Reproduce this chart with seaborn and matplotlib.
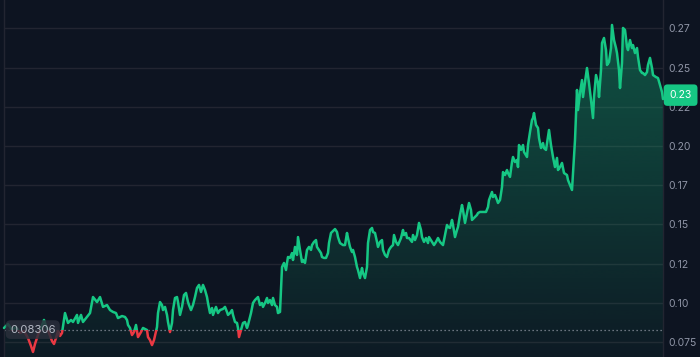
import numpy as np
import matplotlib
matplotlib.use("Agg")
import matplotlib.pyplot as plt
import matplotlib.transforms as mtransforms
from matplotlib.patches import Rectangle, PathPatch
from matplotlib.colors import LinearSegmentedColormap
import seaborn as sns

# ---------------- data ----------------
t = [4, 8, 12, 16, 20, 24, 28, 31, 33, 35, 38, 41, 44, 46, 49, 52, 54, 56, 58, 60,
     62, 65, 68, 71, 73, 77, 78, 81, 83, 87, 90, 93, 97, 100, 103, 107, 110, 113, 116, 118,
     122, 125, 127, 128, 130, 132, 134, 136, 138, 141, 143, 147, 148, 150, 152, 154, 157, 158, 160, 162,
     163, 165, 167, 168, 170, 172, 173, 175, 177, 178, 180, 182, 184, 186, 188, 189, 191, 193, 195, 197,
     199, 201, 203, 205, 207, 208, 210, 212, 213, 216, 218, 220, 223, 225, 227, 228, 230, 232, 233, 235,
     237, 238, 239, 241, 243, 245, 247, 248, 251, 253, 255, 257, 258, 260, 262, 263, 265, 267, 268, 270,
     272, 273, 275, 277, 278, 280, 281, 282, 284, 286, 287, 288, 290, 292, 293, 295, 297, 298, 300, 302,
     303, 305, 307, 309, 311, 312, 314, 316, 317, 319, 321, 322, 324, 326, 328, 329, 331, 333, 335, 337,
     338, 340, 343, 345, 347, 348, 350, 352, 353, 355, 357, 358, 360, 362, 363, 365, 367, 368, 370, 372,
     373, 375, 377, 378, 380, 382, 383, 385, 387, 389, 391, 393, 394, 396, 398, 401, 403, 404, 406, 407,
     409, 412, 413, 415, 417, 419, 421, 422, 424, 426, 428, 429, 432, 434, 436, 438, 440, 443, 445, 447,
     448, 450, 452, 453, 455, 457, 458, 460, 462, 463, 465, 467, 469, 471, 472, 475, 477, 478, 480, 483,
     486, 488, 489, 492, 493, 495, 497, 498, 500, 502, 503, 505, 507, 508, 510, 512, 513, 515, 517, 518,
     519, 521, 523, 524, 527, 528, 530, 532, 533, 534, 536, 538, 539, 541, 543, 544, 546, 549, 551, 553,
     555, 557, 558, 560, 562, 564, 567, 568, 570, 572, 573, 575, 577, 578, 580, 582, 583, 585, 587, 589,
     591, 593, 594, 596, 598, 599, 601, 602, 604, 606, 607, 609, 611, 612, 614, 616, 617, 619, 620, 622,
     623, 625, 627, 628, 630, 632, 633, 635, 637, 638, 640, 642, 643, 645, 647, 648, 650, 652, 653, 656,
     658, 660, 662, 663]

price = [0.0841, 0.0866, 0.0828, 0.0847, 0.0809, 0.0822, 0.0777, 0.0726, 0.0688, 0.0739,
         0.0796, 0.0841, 0.0892, 0.0854, 0.0809, 0.0758, 0.0739, 0.0777, 0.0822, 0.0790,
         0.0809, 0.0936, 0.0873, 0.0892, 0.0879, 0.0924, 0.0873, 0.0924, 0.0879, 0.0911,
         0.0936, 0.1038, 0.1006, 0.1038, 0.0975, 0.0987, 0.0955, 0.0943, 0.0936, 0.0904,
         0.0917, 0.0911, 0.0892, 0.0860, 0.0841, 0.0796, 0.0815, 0.0860, 0.0783, 0.0815,
         0.0841, 0.0828, 0.0783, 0.0764, 0.0732, 0.0764, 0.0847, 0.0936, 0.1006, 0.0987,
         0.0955, 0.0975, 0.0924, 0.0879, 0.0815, 0.0873, 0.0955, 0.1032, 0.1038, 0.1006,
         0.0924, 0.0975, 0.1051, 0.1064, 0.1006, 0.0987, 0.0955, 0.0987, 0.1038, 0.1096,
         0.1115, 0.1070, 0.1115, 0.1083, 0.1038, 0.1000, 0.0936, 0.0968, 0.0924, 0.0975,
         0.0936, 0.0955, 0.0962, 0.0975, 0.0943, 0.0924, 0.0936, 0.0955, 0.0924, 0.0879,
         0.0873, 0.0841, 0.0783, 0.0828, 0.0873, 0.0879, 0.0841, 0.0860, 0.0936, 0.1000,
         0.1019, 0.1032, 0.1038, 0.0987, 0.1000, 0.0975, 0.1000, 0.1032, 0.1000, 0.1019,
         0.0987, 0.1032, 0.0987, 0.0975, 0.0936, 0.0943, 0.1083, 0.1229, 0.1255, 0.1210,
         0.1255, 0.1293, 0.1287, 0.1318, 0.1274, 0.1357, 0.1306, 0.1420, 0.1338, 0.1261,
         0.1274, 0.1255, 0.1338, 0.1357, 0.1338, 0.1369, 0.1389, 0.1401, 0.1357, 0.1338,
         0.1318, 0.1293, 0.1287, 0.1287, 0.1318, 0.1382, 0.1446, 0.1459, 0.1471, 0.1452,
         0.1420, 0.1382, 0.1369, 0.1369, 0.1446, 0.1414, 0.1357, 0.1325, 0.1338, 0.1293,
         0.1229, 0.1210, 0.1159, 0.1223, 0.1191, 0.1159, 0.1229, 0.1382, 0.1465, 0.1478,
         0.1452, 0.1446, 0.1389, 0.1357, 0.1389, 0.1401, 0.1338, 0.1306, 0.1293, 0.1338,
         0.1357, 0.1369, 0.1433, 0.1389, 0.1369, 0.1414, 0.1465, 0.1433, 0.1446, 0.1414,
         0.1414, 0.1389, 0.1433, 0.1401, 0.1433, 0.1510, 0.1465, 0.1420, 0.1389, 0.1414,
         0.1382, 0.1420, 0.1389, 0.1369, 0.1389, 0.1414, 0.1389, 0.1369, 0.1433, 0.1497,
         0.1484, 0.1478, 0.1529, 0.1497, 0.1420, 0.1465, 0.1484, 0.1561, 0.1624, 0.1592,
         0.1510, 0.1573, 0.1637, 0.1592, 0.1529, 0.1548, 0.1561, 0.1573, 0.1580, 0.1580,
         0.1580, 0.1611, 0.1656, 0.1707, 0.1675, 0.1688, 0.1656, 0.1637, 0.1656, 0.1739,
         0.1834, 0.1815, 0.1847, 0.1828, 0.1803, 0.1898, 0.1930, 0.1898, 0.1911, 0.1866,
         0.2006, 0.1975, 0.2006, 0.1962, 0.1930, 0.2006, 0.2089, 0.2166, 0.2178, 0.2210,
         0.2134, 0.2115, 0.2051, 0.1987, 0.2019, 0.1987, 0.1975, 0.2102, 0.2006, 0.1930,
         0.1866, 0.1924, 0.1847, 0.1866, 0.1892, 0.1828, 0.1815, 0.1783, 0.1752, 0.1720,
         0.1828, 0.2038, 0.2357, 0.2229, 0.2338, 0.2420, 0.2312, 0.2408, 0.2497, 0.2401,
         0.2293, 0.2178, 0.2312, 0.2452, 0.2401, 0.2312, 0.2484, 0.2656, 0.2688, 0.2611,
         0.2516, 0.2535, 0.2624, 0.2771, 0.2675, 0.2624, 0.2592, 0.2484, 0.2369, 0.2529,
         0.2752, 0.2739, 0.2631, 0.2611, 0.2675, 0.2624, 0.2643, 0.2592, 0.2624, 0.2567,
         0.2484, 0.2465, 0.2465, 0.2452, 0.2471, 0.2516, 0.2561, 0.2497, 0.2452, 0.2439,
         0.2433, 0.2389, 0.2344, 0.2299]

baseline = 0.08306
baseline_label = "0.08306"
current_label = "0.23"
tick_values = [0.075, 0.100, 0.125, 0.150, 0.175, 0.200, 0.225, 0.250, 0.275]
tick_labels = ["0.075", "0.10", "0.12", "0.15", "0.17", "0.20", "0.22", "0.25", "0.27"]

# ---------------- style ----------------
BG = "#0d1421"
GRID = "#222531"
GREEN = "#16c784"
RED = "#ea3943"
TXT = "#8f95a6"

sns.set_style("dark", {"axes.facecolor": BG, "figure.facecolor": BG})
plt.rcParams["font.family"] = ["Inter", "DejaVu Sans"]

fig = plt.figure(figsize=(7.0, 3.57), dpi=100)
fig.patch.set_facecolor(BG)
ax = fig.add_axes([4 / 700, 0.0, 659 / 700, 1.0])
ax.set_facecolor(BG)

ymin, ymax = 0.0656, 0.2930
xmin, xmax = t[0], t[-1]
ax.set_xlim(xmin, xmax)
ax.set_ylim(ymin, ymax)

# gridlines
for v in tick_values:
    ax.axhline(v, color=GRID, lw=1.0, zorder=0.5)

# gradient fill under the curve (green with vertically varying alpha)
poly = ax.fill_between(t, price, ymin, color="none", lw=0)
g_rgb = (22 / 255, 199 / 255, 132 / 255)
cmap = LinearSegmentedColormap.from_list("g", [g_rgb + (0.0,), g_rgb + (1.0,)])
grad = np.linspace(0.04, 0.38, 256).reshape(-1, 1)
im = ax.imshow(grad, extent=[xmin, xmax, ymin, ymax], aspect="auto", origin="lower",
               cmap=cmap, vmin=0, vmax=1, zorder=1, interpolation="bicubic")
clip = PathPatch(poly.get_paths()[0], transform=ax.transData, facecolor="none", edgecolor="none")
ax.add_patch(clip)
im.set_clip_path(clip)

# lines: green above baseline, red below
sns.lineplot(x=t, y=price, ax=ax, color=GREEN, lw=1.8, estimator=None, sort=False, zorder=3)
sns.lineplot(x=t, y=price, ax=ax, color=RED, lw=1.8, estimator=None, sort=False, zorder=3)
lines = ax.get_lines()
g_line, r_line = lines[-2], lines[-1]
g_rect = Rectangle((xmin - 10, baseline), (xmax - xmin) + 20, ymax - baseline + 1,
                   transform=ax.transData, facecolor="none", edgecolor="none")
r_rect = Rectangle((xmin - 10, ymin - 1), (xmax - xmin) + 20, baseline - ymin + 1,
                   transform=ax.transData, facecolor="none", edgecolor="none")
ax.add_patch(g_rect)
ax.add_patch(r_rect)
g_line.set_clip_path(g_rect)
r_line.set_clip_path(r_rect)
for ln in (g_line, r_line):
    ln.set_solid_capstyle("round")
    ln.set_solid_joinstyle("round")

# baseline dotted
ax.axhline(baseline, color="#8a8f9c", lw=0.9, ls=(0, (1, 2.2)), zorder=2)

# axes cosmetics
ax.set_xticks([])
ax.set_xlabel("")
ax.set_ylabel("")
ax.yaxis.tick_right()
ax.set_yticks(tick_values)
ax.set_yticklabels(tick_labels)
ax.tick_params(axis="y", length=0, pad=3.8, labelsize=7.5, labelcolor=TXT)
for s in ("top", "bottom"):
    ax.spines[s].set_visible(False)
for s in ("left", "right"):
    ax.spines[s].set_visible(True)
    ax.spines[s].set_color(GRID)
    ax.spines[s].set_linewidth(1.0)
ax.grid(False)

# baseline label (left)
trans = mtransforms.blended_transform_factory(ax.transAxes, ax.transData)
ax.text(6 / 659, baseline, baseline_label, transform=trans, ha="left", va="center",
        fontsize=8.2, color="#b4b9c4", zorder=5,
        bbox=dict(boxstyle="round,pad=0.38,rounding_size=0.45", fc="#2a2f3b",
                  ec="none", alpha=0.85))

# current price label (right)
ax.text(665.5 / 659, price[-1] + 0.0025, current_label, transform=trans, ha="left", va="center",
        fontsize=7.5, color="white", zorder=6, clip_on=False,
        bbox=dict(boxstyle="round,pad=0.55,rounding_size=0.35", fc=GREEN, ec="none"))

fig.savefig("out.png", dpi=100, facecolor=BG)
